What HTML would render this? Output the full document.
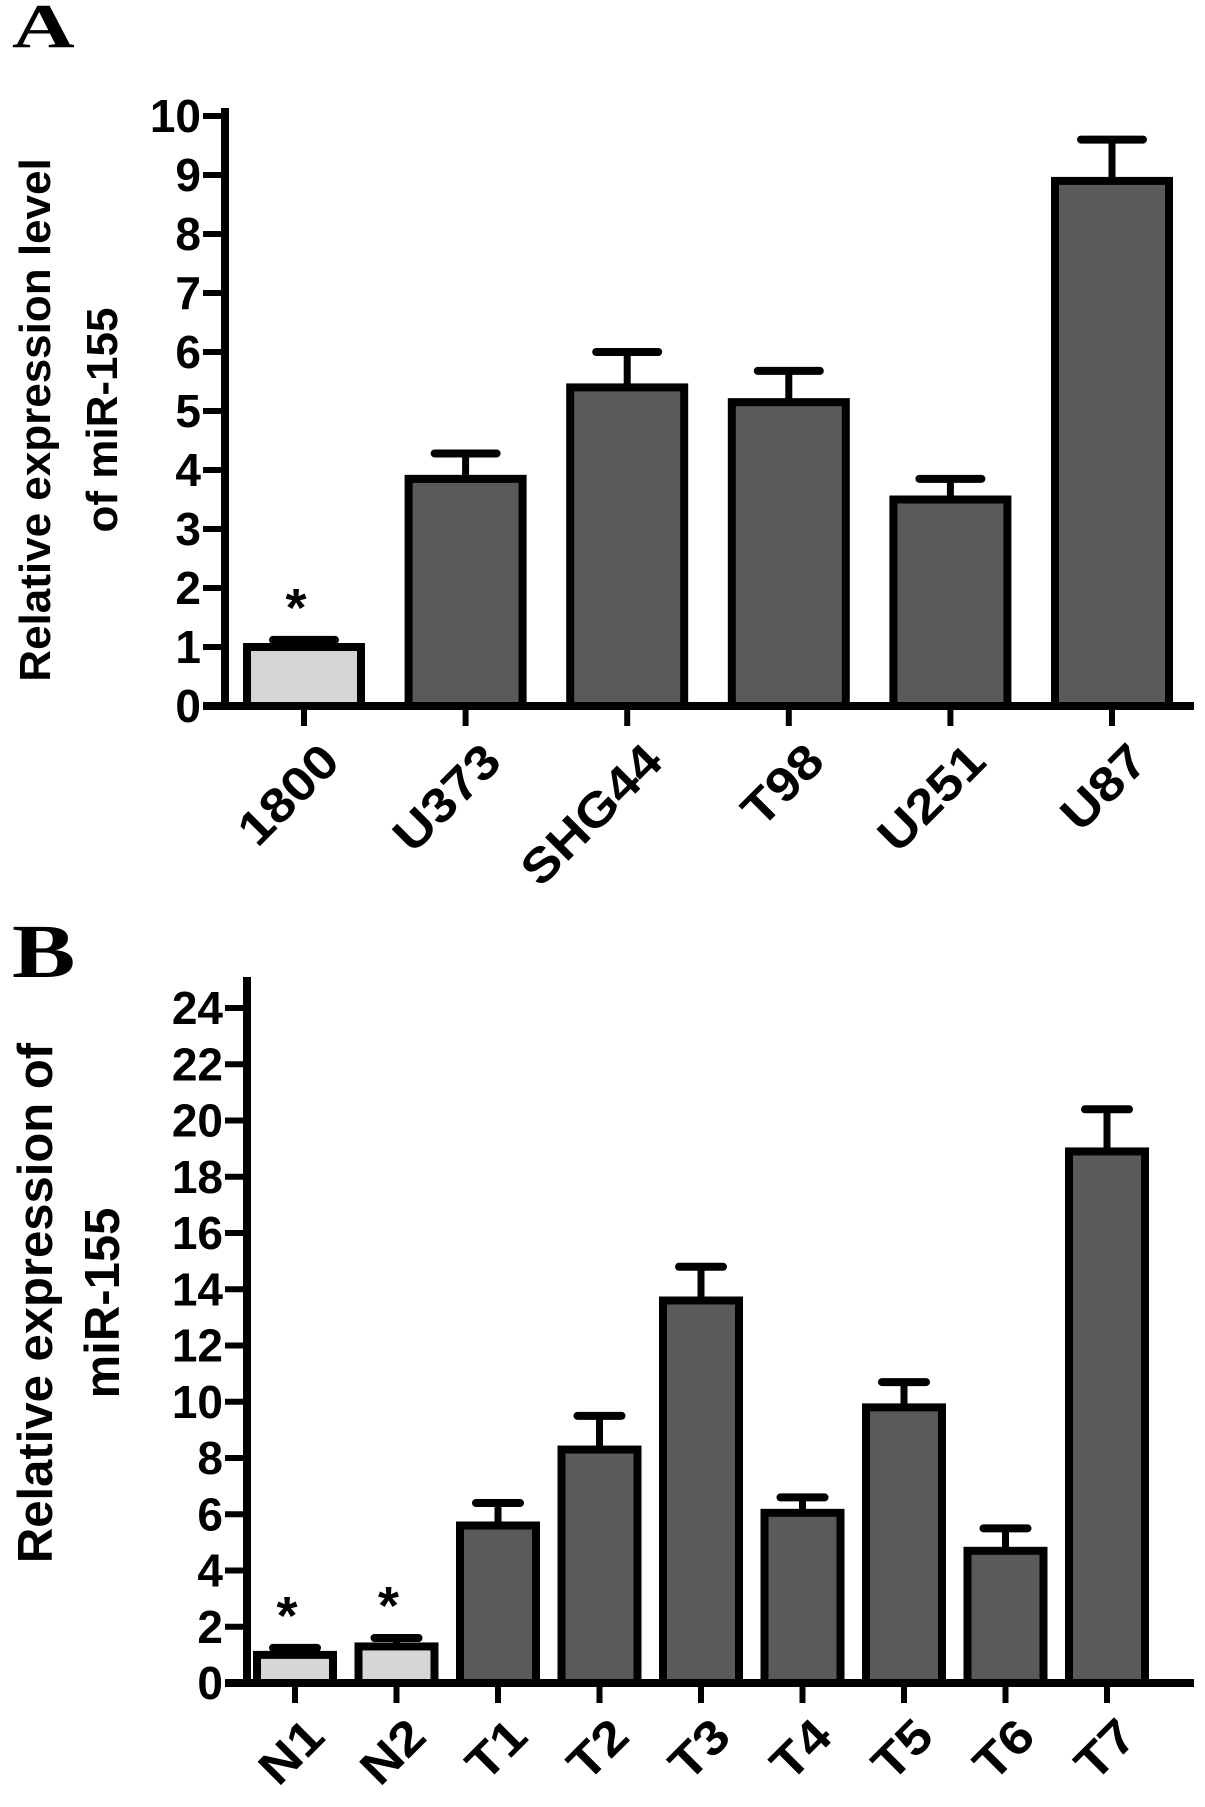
<!DOCTYPE html>
<html><head><meta charset="utf-8"><style>
html,body{margin:0;padding:0;background:#fff;}
svg{display:block;font-family:"Liberation Sans",Arial,sans-serif;}
</style></head><body>
<svg id="fig" width="1205" height="1807" viewBox="0 0 1205 1807">
<text x="0" y="0" transform="translate(12,47) scale(1.4,1)" font-family="Liberation Serif,serif" font-weight="bold" font-size="62">A</text>
<text x="0" y="0" transform="translate(12,977) scale(1.25,1)" font-family="Liberation Serif,serif" font-weight="bold" font-size="76">B</text>
<g id="chartA"></g>
<g id="chartB"></g>
</svg>
<script>
const catsA = ["1800","U373","SHG44","T98","U251","U87"];
const valsA = [1.0,3.85,5.4,5.15,3.5,8.9];
const errA = [0.12,0.43,0.6,0.53,0.35,0.7];
const sigA = [true,false,false,false,false,false];
const ticksA = [0,1,2,3,4,5,6,7,8,9,10];

const catsB = ["N1","N2","T1","T2","T3","T4","T5","T6","T7"];
const valsB = [1.0,1.3,5.6,8.3,13.6,6.05,9.8,4.7,18.9];
const errB = [0.25,0.3,0.8,1.2,1.2,0.55,0.9,0.8,1.5];
const sigB = [true,true,false,false,false,false,false,false,false];
const ticksB = [0,2,4,6,8,10,12,14,16,18,20,22,24];

const NS="http://www.w3.org/2000/svg";
function mk(parent,tag,attrs,text){const e=document.createElementNS(NS,tag);for(const k in attrs)e.setAttribute(k,attrs[k]);if(text!==undefined)e.textContent=text;parent.appendChild(e);return e;}

function draw(g,cfg,cats,vals,errs,sig,ticks){
  const y=v=>cfg.y0-(v/cfg.ymax)*(cfg.y0-cfg.ytop);
  const x=i=>cfg.x0+i*cfg.step;
  let ax=mk(g,'line',{x1:cfg.ax,y1:cfg.axTop,x2:cfg.ax,y2:cfg.y0+4,stroke:'#000','stroke-width':8});
  
  
  let xa=mk(g,'line',{x1:cfg.ax-22,y1:cfg.y0,x2:cfg.axRight,y2:cfg.y0,stroke:'#000','stroke-width':8});
  
  
  ticks.forEach(t=>{
    let tl=mk(g,'line',{x1:cfg.ax-22,y1:y(t),x2:cfg.ax,y2:y(t),stroke:'#000','stroke-width':6});
    
    
    let tx=mk(g,'text',{x:cfg.ax-24,y:y(t)+16,'text-anchor':'end','font-size':46,'font-weight':'bold'},String(t));
    
    
  });
  cats.forEach((c,i)=>{
    const cx=x(i),w=cfg.bw;
    let el=mk(g,'line',{x1:cx,y1:y(vals[i]),x2:cx,y2:y(vals[i]+errs[i]),stroke:'#000','stroke-width':7});
    
    
    let ec=mk(g,'line',{x1:cx-cfg.cap/2,y1:y(vals[i]+errs[i]),x2:cx+cfg.cap/2,y2:y(vals[i]+errs[i]),stroke:'#000','stroke-width':8,'stroke-linecap':'round'});
    
    
    let r=mk(g,'rect',{x:cx-w/2,y:y(vals[i]),width:w,height:cfg.y0-y(vals[i]),fill:sig[i]?'#d6d6d6':'#5a5a5a',stroke:'#000','stroke-width':8});
    
    
    let tk=mk(g,'line',{x1:cx,y1:cfg.y0,x2:cx,y2:cfg.y0+20,stroke:'#000','stroke-width':6});
    
    
    let lb=mk(g,'text',{x:0,y:0,'text-anchor':'end','font-size':cfg.lfs,'font-weight':'bold',transform:`translate(${cx+cfg.lx},${cfg.y0+cfg.ly}) rotate(-45) scale(1.12,1)`},c);
    
    
    if(sig[i]){
      let s=mk(g,'text',{x:cx-8,y:y(vals[i]+errs[i])-14,'text-anchor':'middle','font-size':54,'font-weight':'bold'},'*');
      
      
    }
  });
  const tt=mk(g,'text',{'text-anchor':'middle','font-size':cfg.tfs,'font-weight':'bold',transform:`translate(${cfg.tx},${cfg.ty}) rotate(-90)`});
  
  
  mk(tt,'tspan',{x:0,y:0},cfg.t1);
  mk(tt,'tspan',{x:0,y:67},cfg.t2);
}
draw(document.getElementById('chartA'),{ax:225,axTop:108,axRight:1194,y0:706,ytop:116,ymax:10,x0:304,step:161.6,bw:114,cap:62,lx:38,ly:58,lfs:48,tfs:44,tx:50,ty:420,t1:'Relative expression level',t2:'of miR-155'},catsA,valsA,errA,sigA,ticksA);
draw(document.getElementById('chartB'),{ax:247,axTop:977,axRight:1194,y0:1683,ytop:1008,ymax:24,x0:295,step:101.5,bw:76,cap:44,lx:32,ly:56,lfs:48,tfs:49,tx:52,ty:1303,t1:'Relative expression of',t2:'miR-155'},catsB,valsB,errB,sigB,ticksB);
</script>
</body></html>
